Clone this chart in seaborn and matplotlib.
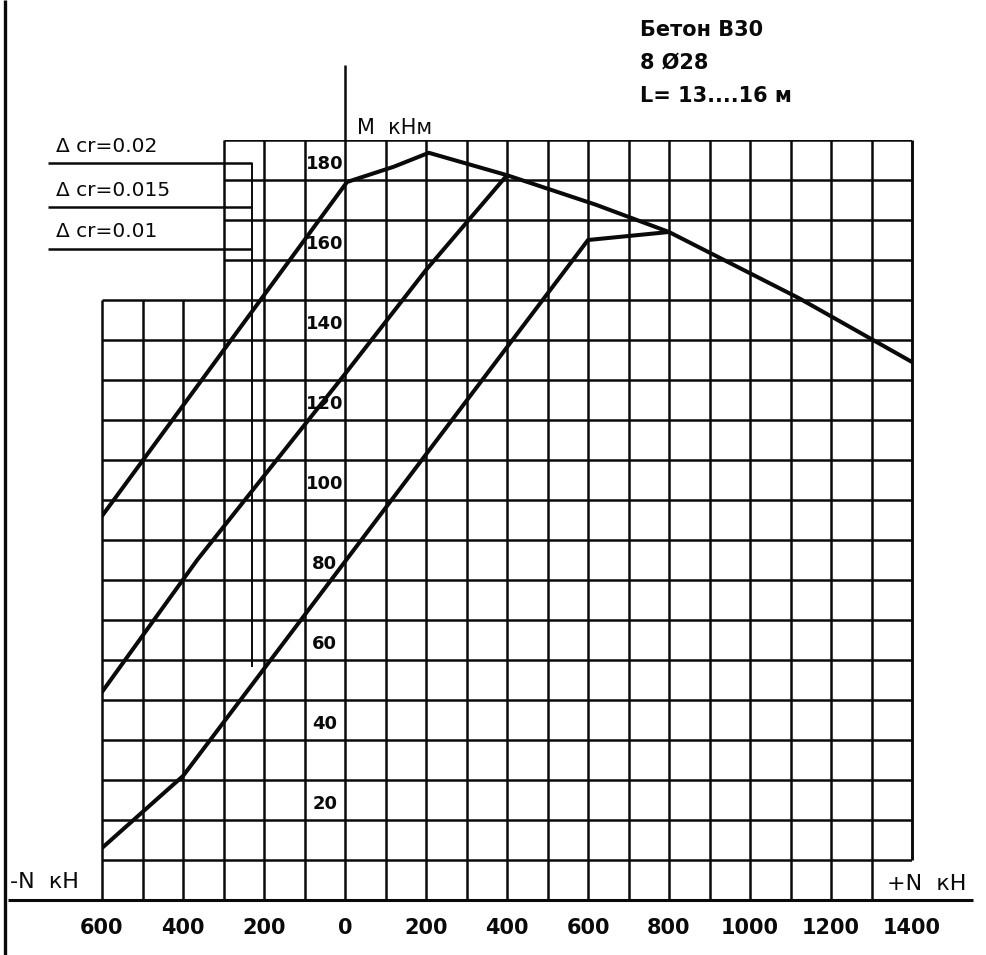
import numpy as np
import pandas as pd
import matplotlib
matplotlib.use("Agg")
import matplotlib.pyplot as plt
import seaborn as sns

# --- data (N in kN, M in kNm) ---
# delta cr = 0.02 : rising branch + full upper envelope
cr002_N = [-600, 5, 120, 207, 400, 620, 800, 1120, 1400]
cr002_M = [96, 179.5, 183.3, 186.8, 181.2, 173.8, 167, 150.5, 134.5]
# delta cr = 0.015 : rising branch, joins envelope at N=400
cr0015_N = [-600, -365, 0, 200, 400]
cr0015_M = [52, 85, 131.5, 157.5, 181.2]
# delta cr = 0.01 : rising branch with kink, flat piece, joins envelope at N=800
cr001_N = [-600, -400, 600, 800]
cr001_M = [13, 31, 165, 167]

legend_labels = ["Δ cr=0.02", "Δ cr=0.015", "Δ cr=0.01"]
x_ticks = [-600, -400, -200, 0, 200, 400, 600, 800, 1000, 1200, 1400]
x_tick_labels = ["600", "400", "200", "0", "200", "400", "600", "800", "1000", "1200", "1400"]
y_labels = [20, 40, 60, 80, 100, 120, 140, 160, 180]

note_lines = ["Бетон В30", "8 Ø28", "L= 13....16 м"]

INK = "#0a0a0a"
W, H = 986, 955
GRID_LEFT, GRID_RIGHT, GRID_TOP, GRID_BOTTOM = 102, 912, 140, 900  # pixels
N_MIN, N_MAX, M_MAX = -600, 1400, 190


def nx(px):
    # pixel column -> N value
    return N_MIN + (px - GRID_LEFT) * (N_MAX - N_MIN) / (GRID_RIGHT - GRID_LEFT)


def my(py):
    # pixel row -> M value
    return (GRID_BOTTOM - py) * M_MAX / (GRID_BOTTOM - GRID_TOP)


sns.set_theme(style="white")
plt.rcParams["font.family"] = ["DejaVu Sans"]

fig = plt.figure(figsize=(W / 100, H / 100), dpi=100)
fig.patch.set_facecolor("white")
ax = fig.add_axes([GRID_LEFT / W, 1 - GRID_BOTTOM / H,
                   (GRID_RIGHT - GRID_LEFT) / W, (GRID_BOTTOM - GRID_TOP) / H])
ax.set_xlim(N_MIN, N_MAX)
ax.set_ylim(0, M_MAX)
ax.set_facecolor("white")
for s in ax.spines.values():
    s.set_visible(False)

glw = 1.8
# horizontal grid
for m in range(10, 151, 10):
    ax.hlines(m, N_MIN, N_MAX, color=INK, lw=glw)
for m in range(160, M_MAX + 1, 10):
    ax.hlines(m, -300, N_MAX, color=INK, lw=glw)
ax.hlines(0, nx(8), nx(973), color=INK, lw=2.2, clip_on=False)
# vertical grid
for n in range(N_MIN, N_MAX, 100):
    top = 150 if n < -300 else M_MAX
    ax.vlines(n, 0, top, color=INK, lw=glw, clip_on=False)
ax.vlines(N_MAX, 10, M_MAX, color=INK, lw=glw + 0.3, clip_on=False)
# M axis above the grid
ax.vlines(0, M_MAX, my(65), color=INK, lw=glw, clip_on=False)
# page border at left
ax.vlines(nx(5), my(H), my(0), color=INK, lw=2.4, clip_on=False)

# curves
df = pd.DataFrame({
    "N": cr002_N + cr0015_N + cr001_N,
    "M": cr002_M + cr0015_M + cr001_M,
    "curve": [legend_labels[0]] * len(cr002_N) + [legend_labels[1]] * len(cr0015_N)
             + [legend_labels[2]] * len(cr001_N),
})
sns.lineplot(data=df, x="N", y="M", units="curve", estimator=None, sort=False,
             color=INK, lw=2.9, ax=ax, legend=False)

# legend leaders
lead_y = [my(163), my(207), my(249)]
text_y = [my(146), my(190), my(231)]
for lab, ly, ty in zip(legend_labels, lead_y, text_y):
    ax.hlines(ly, nx(48), nx(252), color=INK, lw=glw, clip_on=False)
    ax.text(nx(56), ty, lab, fontsize=14.5, color=INK, ha="left", va="center", clip_on=False)
ax.vlines(nx(252), my(667), lead_y[0], color=INK, lw=1.4, clip_on=False)

# y value labels inside cells left of the M axis
for v in y_labels:
    ax.text(-50, v + 4, str(v), fontsize=13, fontweight="bold", color=INK,
            ha="center", va="center")

# x tick labels
ax.set_xticks(x_ticks)
ax.set_xticklabels(x_tick_labels, fontsize=15, fontweight="bold", color=INK)
ax.set_yticks([])
ax.tick_params(axis="x", length=0, pad=13)
ax.set_xlabel("")
ax.set_ylabel("")

# axis names
ax.text(nx(10), my(882), "-N  кН", fontsize=16, color=INK, ha="left", va="center", clip_on=False)
ax.text(nx(887), my(884), "+N  кН", fontsize=16, color=INK, ha="left", va="center", clip_on=False)
ax.text(nx(357), my(128), "M  кНм", fontsize=15, color=INK, ha="left", va="center", clip_on=False)

# notes
for i, t in enumerate(note_lines):
    ax.text(nx(640), my(30 + 33 * i), t, fontsize=15, fontweight="bold", color=INK,
            ha="left", va="center", clip_on=False)

fig.savefig("out.png", dpi=100, facecolor="white")
